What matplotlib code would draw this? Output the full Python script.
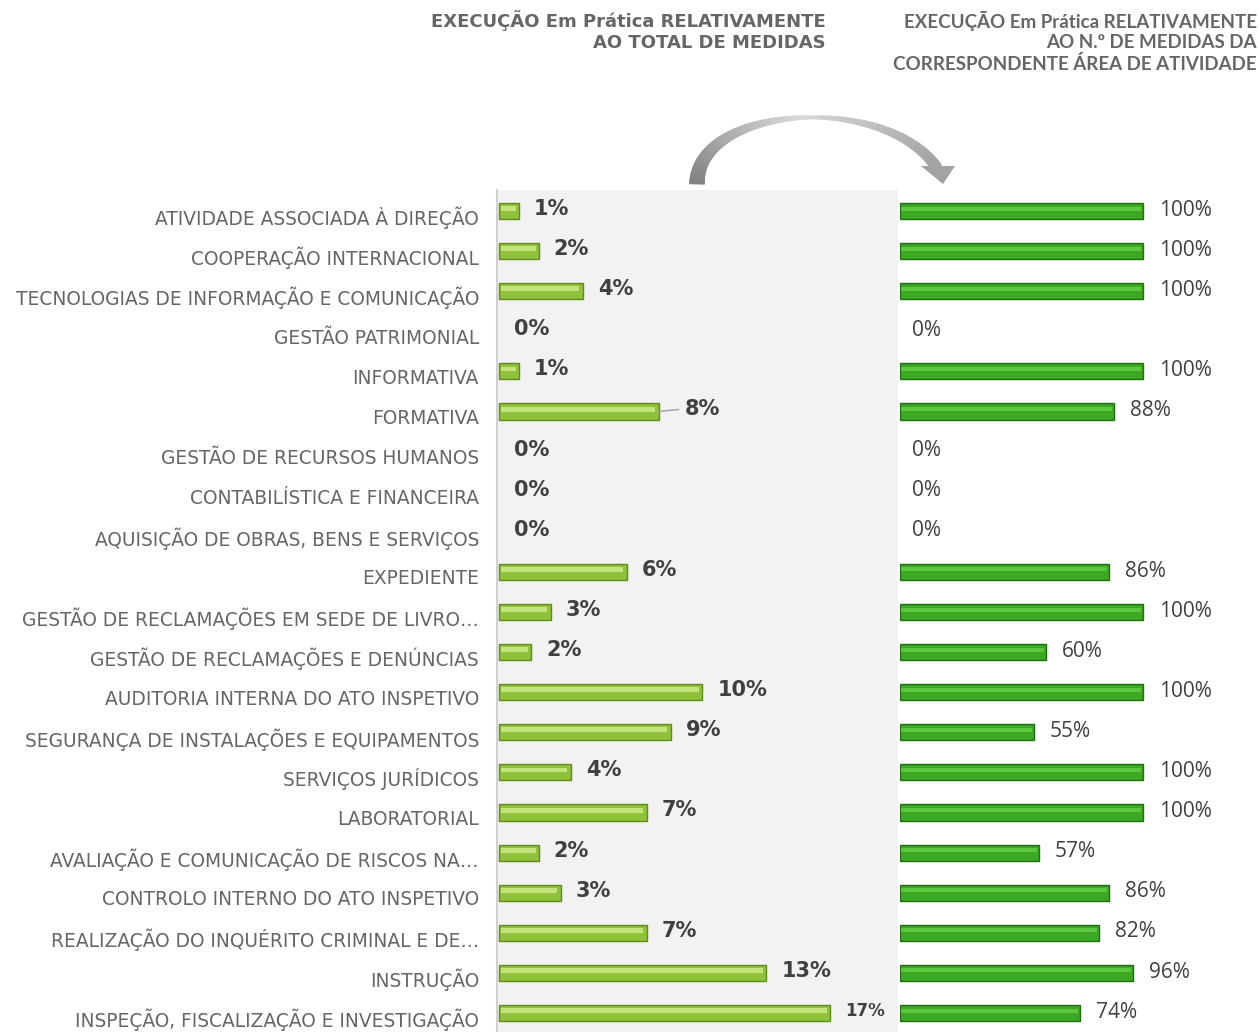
"""
Execução das medidas por área de atividade: peso no total vs. taxa na própria área.
"""

import numpy as np
import matplotlib
matplotlib.use("Agg")
import matplotlib.pyplot as plt
import matplotlib.transforms as mtransforms
from matplotlib.patches import Polygon

AREAS = [
    "ATIVIDADE ASSOCIADA À DIREÇÃO",
    "COOPERAÇÃO INTERNACIONAL",
    "TECNOLOGIAS DE INFORMAÇÃO E COMUNICAÇÃO",
    "GESTÃO PATRIMONIAL",
    "INFORMATIVA",
    "FORMATIVA",
    "GESTÃO DE RECURSOS HUMANOS",
    "CONTABILÍSTICA E FINANCEIRA",
    "AQUISIÇÃO DE OBRAS, BENS E SERVIÇOS",
    "EXPEDIENTE",
    "GESTÃO DE RECLAMAÇÕES EM SEDE DE LIVRO…",
    "GESTÃO DE RECLAMAÇÕES E DENÚNCIAS",
    "AUDITORIA INTERNA DO ATO INSPETIVO",
    "SEGURANÇA DE INSTALAÇÕES E EQUIPAMENTOS",
    "SERVIÇOS JURÍDICOS",
    "LABORATORIAL",
    "AVALIAÇÃO E COMUNICAÇÃO DE RISCOS NA…",
    "CONTROLO INTERNO DO ATO INSPETIVO",
    "REALIZAÇÃO DO INQUÉRITO CRIMINAL E DE…",
    "INSTRUÇÃO",
    "INSPEÇÃO, FISCALIZAÇÃO E INVESTIGAÇÃO",
]
# % do total de medidas executadas
PCT_TOTAL = [1.0, 2.0, 4.2, 0.0, 1.0, 8.0, 0.0, 0.0, 0.0, 6.4, 2.6,
             1.6, 10.2, 8.6, 3.6, 7.4, 2.0, 3.1, 7.4, 13.4, 16.6]
TOTAL_LABELS = ["1%", "2%", "4%", "0%", "1%", "8%", "0%", "0%", "0%", "6%", "3%",
                "2%", "10%", "9%", "4%", "7%", "2%", "3%", "7%", "13%", "17%"]
# % executadas dentro da própria área
PCT_AREA = [100, 100, 100, 0, 100, 88, 0, 0, 0, 86, 100,
            60, 100, 55, 100, 100, 57, 86, 82, 96, 74]

W, H = 1259, 1032
LIGHT = "#8fc23a"
LIGHT_EDGE = "#5f8a1c"
LIGHT_HI = "#c4e37a"
DARK = "#3aa822"
DARK_EDGE = "#226c12"
DARK_HI = "#5cc63c"
TXT = "#404040"
CAT = "#666666"

fig = plt.figure(figsize=(W / 100, H / 100), dpi=100)


def fx(px):
    return px / W


def fy(py):
    return 1 - py / H


top_px = 190
row0, step = 211, 40.1
ylim = ((H - row0) / step, -(row0 - top_px) / step)
ypos = np.arange(len(AREAS))

# left panel (share of total)
axl = fig.add_axes([fx(497), 0, fx(898) - fx(497), fy(top_px)])
axl.set_facecolor("#f2f2f2")
axl.set_xlim(-0.1, 20.0)
axl.set_ylim(*ylim)
tot = np.array(PCT_TOTAL)
nz = tot > 0
axl.barh(ypos[nz], tot[nz], height=0.4, color=LIGHT, edgecolor=LIGHT_EDGE, linewidth=1.0)
axl.barh(ypos[nz] - 0.06, tot[nz] - 0.25, left=0.08,
         height=0.12, color=LIGHT_HI, linewidth=0)
for y, v, lab in zip(ypos, PCT_TOTAL, TOTAL_LABELS):
    off = 0.75
    if lab == "8%":
        axl.plot([v, v + 1.0], [y, y - 0.05], color="#a0a0a0", lw=1)
        off = 1.3
    fs = 12 if lab == "17%" else 15
    axl.text(v + off, y - 0.05, lab, ha="left", va="center", fontsize=fs,
             fontweight="bold", color=TXT, family="DejaVu Sans")
axl.set_yticks(ypos)
axl.set_yticklabels(AREAS, fontsize=13.4, color=CAT, family="DejaVu Sans")
axl.tick_params(axis="y", length=0, pad=13)
axl.set_xticks([])
for s in ["top", "right", "bottom"]:
    axl.spines[s].set_visible(False)
axl.spines["left"].set_color("#d0d0d0")
axl.spines["left"].set_linewidth(1.5)
# category labels sit a little lower than the bars
shift = mtransforms.ScaledTranslation(0, -5 / 100, fig.dpi_scale_trans)
for t in axl.get_yticklabels():
    t.set_transform(t.get_transform() + shift)

# right panel (rate within area)
axr = fig.add_axes([fx(900), 0, 1 - fx(900), fy(top_px)])
axr.set_xlim(0, (W - 900) / 243 * 100)
axr.set_ylim(*ylim)
area = np.array(PCT_AREA)
nz = area > 0
axr.barh(ypos[nz], area[nz], height=0.4, color=DARK, edgecolor=DARK_EDGE, linewidth=1.0)
axr.barh(ypos[nz] - 0.06, area[nz] - 1.2, left=0.4,
         height=0.1, color=DARK_HI, linewidth=0)
for y, v in zip(ypos, PCT_AREA):
    axr.text(v + 6.5 if v else 5.0, y - 0.02, f"{v}%", ha="left", va="center",
             fontsize=15, color=TXT, family="Open Sans")
axr.axis("off")

# headers
fig.text(fx(826), fy(10), "EXECUÇÃO Em Prática RELATIVAMENTE\nAO TOTAL DE MEDIDAS",
         ha="right", va="top", fontsize=13, fontweight="bold", color=CAT,
         family="DejaVu Sans", linespacing=1.2)
fig.text(fx(1257), fy(11),
         "EXECUÇÃO Em Prática RELATIVAMENTE\nAO N.º DE MEDIDAS DA\nCORRESPONDENTE ÁREA DE ATIVIDADE",
         ha="right", va="top", fontsize=13.5, fontweight="bold", color=CAT,
         family="Lato", linespacing=1.25)

# curved arrow from left panel to right panel, drawn in pixel space
ov = fig.add_axes([0, 0, 1, 1])
ov.set_xlim(0, W)
ov.set_ylim(H, 0)
ov.axis("off")
P = np.array([[697, 184], [697, 105], [885, 92], [937, 168]], float)
t = np.linspace(0, 1, 120)[:, None]
pts = ((1 - t) ** 3 * P[0] + 3 * (1 - t) ** 2 * t * P[1]
       + 3 * (1 - t) * t ** 2 * P[2] + t ** 3 * P[3])
d = np.gradient(pts, axis=0)
nrm = np.c_[-d[:, 1], d[:, 0]] / np.hypot(d[:, 0], d[:, 1])[:, None]
half = np.interp(t[:, 0], [0, 0.55, 1], [7.5, 1.5, 5.5])
left = pts + nrm * half[:, None]
right = pts - nrm * half[:, None]
shade = np.interp(t[:, 0], [0, 0.5, 1], [0.50, 0.85, 0.63])
for i in range(len(t) - 1):
    quad = [left[i], left[i + 1], right[i + 1], right[i]]
    g = shade[i]
    ov.add_patch(Polygon(quad, closed=True, color=(g, g, g), lw=0.6))
ov.add_patch(Polygon([[921, 166], [955, 166], [943, 184]], closed=True,
                     color="#a3a3a3", lw=0))

fig.savefig("out.png", dpi=100)
